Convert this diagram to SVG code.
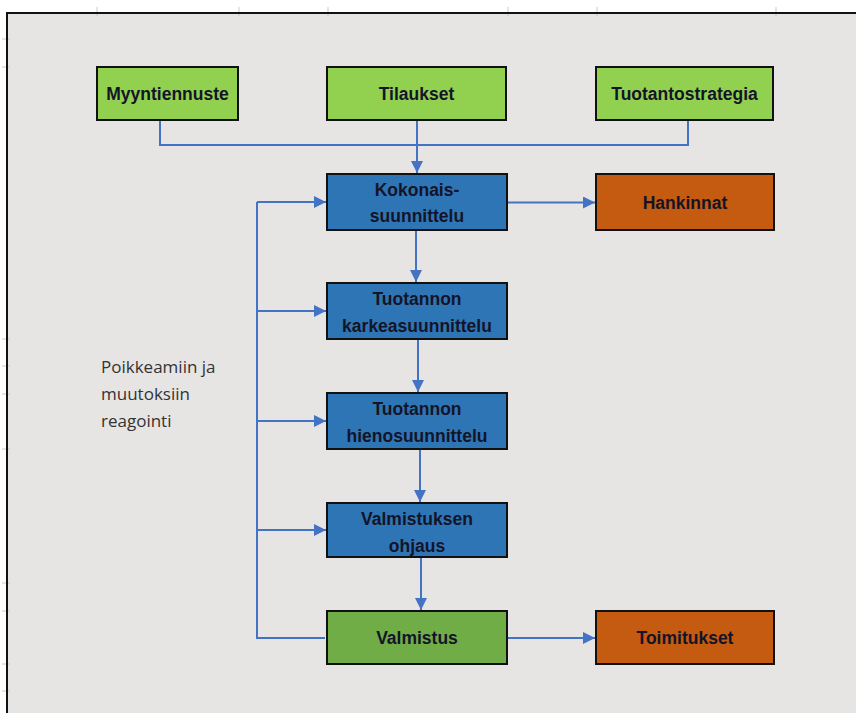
<svg xmlns="http://www.w3.org/2000/svg" width="856" height="713" viewBox="0 0 856 713">
<style>
.box{stroke:#111;stroke-width:2}
.g1{fill:#92d050}.g2{fill:#70ad47}.b{fill:#2e75b6}.o{fill:#c55a11}
.t{font-family:"Liberation Sans",Arial,sans-serif;font-weight:bold;font-size:17.5px;fill:#141428;text-anchor:middle}
.c{fill:none;stroke:#4472c4;stroke-width:2}
.tick{stroke:#c8c8c8;stroke-width:1}
.note{font-family:"Open Sans","Liberation Sans",sans-serif;font-size:17px;fill:#333}
</style>
<defs>
<marker id="ah" viewBox="0 0 10 10" refX="10" refY="5" markerWidth="6" markerHeight="6" orient="auto" markerUnits="strokeWidth">
<path d="M0,0 L10,5 L0,10 z" fill="#4472c4"/>
</marker>
</defs>
<rect x="0" y="0" width="856" height="713" fill="#ffffff"/>
<rect x="7" y="13" width="849" height="700" fill="#e7e4e4"/>
<g id="ticks">
<line class="tick" x1="97" y1="7" x2="97" y2="16"/>
<line class="tick" x1="239" y1="7" x2="239" y2="16"/>
<line class="tick" x1="328" y1="7" x2="328" y2="16"/>
<line class="tick" x1="508" y1="7" x2="508" y2="16"/>
<line class="tick" x1="597" y1="7" x2="597" y2="16"/>
<line class="tick" x1="776" y1="7" x2="776" y2="16"/>
<line class="tick" x1="2" y1="39" x2="10" y2="39"/>
<line class="tick" x1="2" y1="67" x2="10" y2="67"/>
<line class="tick" x1="2" y1="339" x2="10" y2="339"/>
<line class="tick" x1="2" y1="366" x2="10" y2="366"/>
<line class="tick" x1="2" y1="394" x2="10" y2="394"/>
<line class="tick" x1="2" y1="449" x2="10" y2="449"/>
<line class="tick" x1="2" y1="583" x2="10" y2="583"/>
<line class="tick" x1="2" y1="611" x2="10" y2="611"/>
<line class="tick" x1="2" y1="664" x2="10" y2="664"/>
<line class="tick" x1="2" y1="691" x2="10" y2="691"/>
</g>
<line x1="6" y1="13" x2="856" y2="13" stroke="#111" stroke-width="2"/>
<line x1="7" y1="12" x2="7" y2="713" stroke="#111" stroke-width="2"/>
<g id="connectors">
<path class="c" d="M160,120 V145 H688 V120"/>
<path class="c" d="M417,120 V173" marker-end="url(#ah)"/>
<path class="c" d="M507,202.5 H595" marker-end="url(#ah)"/>
<path class="c" d="M416,230 V282" marker-end="url(#ah)"/>
<path class="c" d="M418,339 V392" marker-end="url(#ah)"/>
<path class="c" d="M420,449 V502" marker-end="url(#ah)"/>
<path class="c" d="M421,557 V610" marker-end="url(#ah)"/>
<path class="c" d="M507,638 H595" marker-end="url(#ah)"/>
<path class="c" d="M325,638 H257 V202"/>
<path class="c" d="M257,202 H326" marker-end="url(#ah)"/>
<path class="c" d="M257,311 H326" marker-end="url(#ah)"/>
<path class="c" d="M257,421 H326" marker-end="url(#ah)"/>
<path class="c" d="M257,530 H326" marker-end="url(#ah)"/>
</g>
<g id="myyntiennuste"><rect class="box g1" x="97" y="67" width="141" height="53"/><text class="t" x="167.5" y="100">Myyntiennuste</text></g>
<g id="tilaukset"><rect class="box g1" x="327" y="67" width="179" height="53"/><text class="t" x="416.5" y="100">Tilaukset</text></g>
<g id="tuotantostrategia"><rect class="box g1" x="596" y="67" width="177" height="53"/><text class="t" x="684.5" y="100">Tuotantostrategia</text></g>
<g id="kokonaissuunnittelu"><rect class="box b" x="327" y="174" width="180" height="56"/><text class="t" x="417" y="196">Kokonais-</text><text class="t" x="417" y="222">suunnittelu</text></g>
<g id="hankinnat"><rect class="box o" x="596" y="174" width="178" height="56"/><text class="t" x="685" y="209">Hankinnat</text></g>
<g id="karkeasuunnittelu"><rect class="box b" x="327" y="283" width="180" height="56"/><text class="t" x="417" y="305">Tuotannon</text><text class="t" x="417" y="332">karkeasuunnittelu</text></g>
<g id="hienosuunnittelu"><rect class="box b" x="327" y="393" width="180" height="56"/><text class="t" x="417" y="415">Tuotannon</text><text class="t" x="417" y="442">hienosuunnittelu</text></g>
<g id="valmistuksenohjaus"><rect class="box b" x="327" y="503" width="180" height="54"/><text class="t" x="417" y="525">Valmistuksen</text><text class="t" x="417" y="552">ohjaus</text></g>
<g id="valmistus"><rect class="box g2" x="327" y="611" width="180" height="53"/><text class="t" x="417" y="644">Valmistus</text></g>
<g id="toimitukset"><rect class="box o" x="596" y="611" width="178" height="53"/><text class="t" x="685" y="644">Toimitukset</text></g>
<g id="note">
<text class="note" x="101" y="373">Poikkeamiin ja</text>
<text class="note" x="101" y="400">muutoksiin</text>
<text class="note" x="101" y="427">reagointi</text>
</g>
</svg>
